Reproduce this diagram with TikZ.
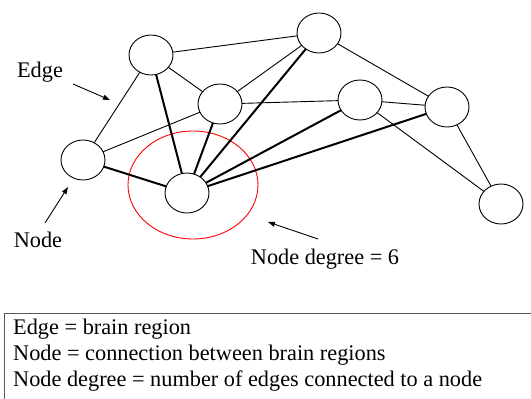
\documentclass[tikz,border=0pt]{standalone}
\usepackage{fontspec}
\setmainfont{Liberation Serif}
\usetikzlibrary{arrows.meta,shapes.geometric}
\begin{document}
\begin{tikzpicture}[x=1pt,y=-1pt,
  vert/.style={draw,ellipse,minimum width=44pt,minimum height=40pt,inner sep=0pt,line width=0.9pt,fill=white},
  thin/.style={line width=0.9pt},
  thick2/.style={line width=2pt},
  lbl/.style={font=\fontsize{22.3}{25}\selectfont,inner sep=0pt},
  pointer/.style={line width=0.9pt,-{Triangle[length=7pt,width=5pt]}}]
\useasboundingbox (0,0) rectangle (531,399);
% edges
\coordinate (pA) at (151,55);
\coordinate (pB) at (319,33);
\coordinate (pC) at (220,104);
\coordinate (pD) at (360,100);
\coordinate (pE) at (447,107);
\coordinate (pF) at (83,160);
\coordinate (pG) at (187,193);
\coordinate (pH) at (501,204);
\draw[red,line width=0.9pt] (193,185) ellipse [x radius=65,y radius=54];
\draw[thin] (pA)--(pB) (pA)--(pC) (pA)--(pF) (pB)--(pC) (pB)--(pE) (pC)--(pD) (pC)--(pF) (pD)--(pE) (pD)--(pH) (pE)--(pH);
\draw[thick2] (pA)--(pG) (pC)--(pG) (pB)--(pG) (pD)--(pG) (pE)--(pG) (pF)--(pG);
\foreach \n in {A,B,C,D,E,F,G,H} \node[vert] (\n) at (p\n) {};
% labels
\node[lbl] (edgelbl) at (40,72) {Edge};
\node[lbl] (nodelbl) at (38,240) {Node};
\node[lbl] (deglbl) at (325,259) {Node degree = 6};
\coordinate (e1) at (73,84); \coordinate (e2) at (110,100);
\coordinate (n1) at (45,223); \coordinate (n2) at (68,187);
\coordinate (d1) at (318,239); \coordinate (d2) at (268,222);
\draw[pointer] (e1)--(e2);
\draw[pointer] (n1)--(n2);
\draw[pointer] (d1)--(d2);
% box
\draw[gray!70!black,line width=0.9pt] (535,313) -- (4,313) -- (4,402);
\node[lbl,anchor=west] (l1) at (13,329) {Edge = brain region};
\node[lbl,anchor=west] (l2) at (13,355) {Node = connection between brain regions};
\node[lbl,anchor=west] (l3) at (13,381) {Node degree = number of edges connected to a node};
\end{tikzpicture}
\end{document}
